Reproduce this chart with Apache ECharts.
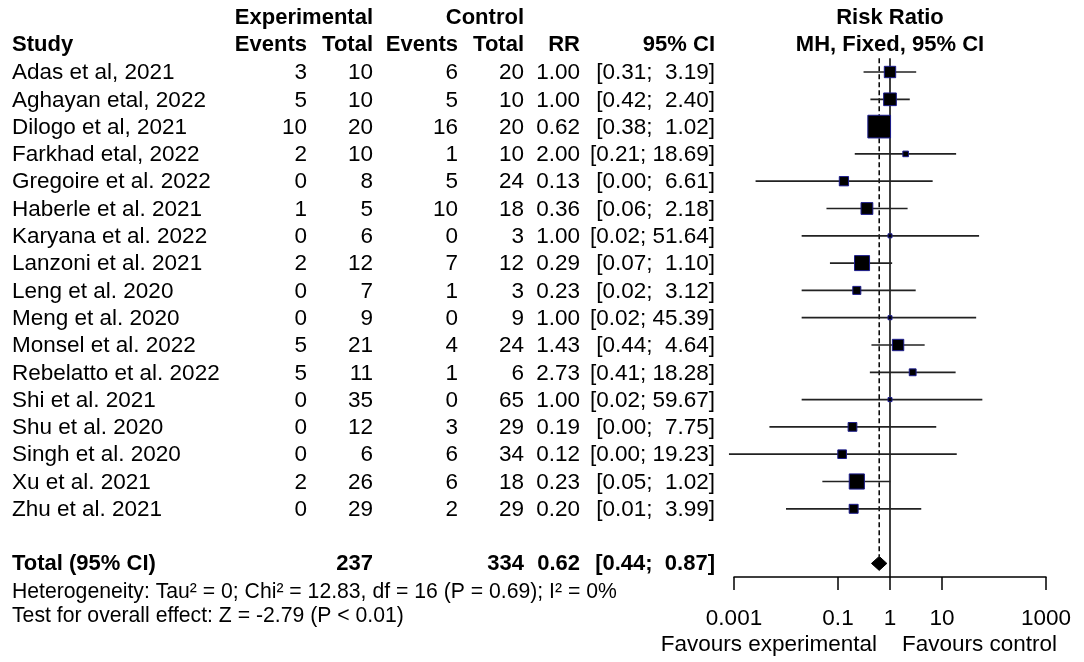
<!DOCTYPE html>
<html>
  <head>
    <meta charset="utf-8" />
    <title>Forest plot - Risk Ratio</title>
    <script src="https://cdn.jsdelivr.net/npm/echarts@6/dist/echarts.min.js"></script>
    <style>
      body {
        margin: 0;
        background: #fff;
      }
      #chart {
        width: 1084px;
        height: 662px;
      }
    </style>
  </head>
  <body>
    <div id="chart"></div>

    <script>
      const studies = [
        'Adas et al, 2021', 'Aghayan etal, 2022', 'Dilogo et al, 2021', 'Farkhad etal, 2022',
        'Gregoire et al. 2022', 'Haberle et al. 2021', 'Karyana et al. 2022', 'Lanzoni et al. 2021',
        'Leng et al. 2020', 'Meng et al. 2020', 'Monsel et al. 2022', 'Rebelatto et al. 2022',
        'Shi et al. 2021', 'Shu et al. 2020', 'Singh et al. 2020', 'Xu et al. 2021', 'Zhu et al. 2021'
      ];
      const expEvents = [3, 5, 10, 2, 0, 1, 0, 2, 0, 0, 5, 5, 0, 0, 0, 2, 0];
      const expTotal = [10, 10, 20, 10, 8, 5, 6, 12, 7, 9, 21, 11, 35, 12, 6, 26, 29];
      const ctrlEvents = [6, 5, 16, 1, 5, 10, 0, 7, 1, 0, 4, 1, 0, 3, 6, 6, 2];
      const ctrlTotal = [20, 10, 20, 10, 24, 18, 3, 12, 3, 9, 24, 6, 65, 29, 34, 18, 29];
      const rr = [1.00, 1.00, 0.62, 2.00, 0.13, 0.36, 1.00, 0.29, 0.23, 1.00, 1.43, 2.73, 1.00, 0.19, 0.12, 0.23, 0.20];
      const ciLow = [0.31, 0.42, 0.38, 0.21, 0.0026, 0.06, 0.02, 0.07, 0.02, 0.02, 0.44, 0.41, 0.02, 0.0048, 0.0008, 0.05, 0.01];
      const ciHigh = [3.19, 2.40, 1.02, 18.69, 6.61, 2.18, 51.64, 1.10, 3.12, 45.39, 4.64, 18.28, 59.67, 7.75, 19.23, 1.02, 3.99];
      // weights (%)
      const weight = [6.6, 8.2, 26.3, 1.6, 4.4, 7.1, 0, 11.5, 3.3, 0, 6.6, 2.4, 0, 3.9, 3.8, 11.7, 4.1];

      const totalExp = 237;
      const totalCtrl = 334;
      const totalRR = 0.62;
      const totalLow = 0.44;
      const totalHigh = 0.87;

      const tickValues = [0.001, 0.1, 1, 10, 1000];
      const tickLabels = ['0.001', '0.1', '1', '10', '1000'];

      const FONT = '"Liberation Sans", Arial, Helvetica, sans-serif';
      const TOTAL_ROW = 18;

      const fmt = v => v.toFixed(2);
      const ciText = (lo, hi) => '[' + fmt(lo) + ';' + (hi < 10 ? '  ' : ' ') + fmt(hi) + ']';

      function txt(text, x, y, align, bold, size) {
        return {
          type: 'text',
          style: {
            text: text, x: x, y: y,
            align: align, verticalAlign: 'middle',
            fontSize: size || (bold ? 22 : 22.5), fontFamily: FONT,
            fontWeight: bold ? 'bold' : 'normal',
            fill: '#000'
          }
        };
      }

      // table rows, y taken from the axis
      function renderTable(params, api) {
        const i = api.value(1);
        const y = api.coord([1, i])[1] + 1;
        return {
          type: 'group',
          children: [
            txt(studies[i], 12, y, 'left'),
            txt(String(expEvents[i]), 307, y, 'right'),
            txt(String(expTotal[i]), 373, y, 'right'),
            txt(String(ctrlEvents[i]), 458, y, 'right'),
            txt(String(ctrlTotal[i]), 524, y, 'right'),
            txt(fmt(rr[i]), 580, y, 'right'),
            txt(ciText(ciLow[i], ciHigh[i]), 715, y, 'right')
          ]
        };
      }

      function renderStudy(params, api) {
        const i = params.dataIndex;
        const c = api.coord([rr[i], i]);
        const l = api.coord([ciLow[i], i]);
        const h = api.coord([ciHigh[i], i]);
        const s = Math.max(4, 22.7 * Math.sqrt(weight[i] / 26.3));
        return {
          type: 'group',
          children: [
            {
              type: 'line',
              shape: { x1: l[0], y1: l[1], x2: h[0], y2: h[1] },
              style: { stroke: '#222', lineWidth: 1.7 }
            },
            {
              type: 'rect',
              shape: { x: c[0] - s / 2, y: c[1] - s / 2, width: s, height: s },
              style: { fill: '#000', stroke: '#1c1c8c', lineWidth: 1 }
            }
          ]
        };
      }

      function renderRefLines(params, api) {
        const top = api.coord([1, -0.5]);
        const bottom = api.coord([1, TOTAL_ROW + 0.5]);
        const d = api.coord([totalRR, -0.5]);
        const dEnd = api.coord([totalRR, TOTAL_ROW]);
        return {
          type: 'group',
          children: [
            {
              type: 'line',
              shape: { x1: top[0], y1: top[1], x2: bottom[0], y2: bottom[1] },
              style: { stroke: '#000', lineWidth: 1.5 }
            },
            {
              type: 'line',
              shape: { x1: d[0], y1: d[1], x2: dEnd[0], y2: dEnd[1] - 7 },
              style: { stroke: '#000', lineWidth: 1.5, lineDash: [5, 3] }
            }
          ]
        };
      }

      function renderTotal(params, api) {
        const c = api.coord([totalRR, TOTAL_ROW]);
        const l = api.coord([totalLow, TOTAL_ROW]);
        const h = api.coord([totalHigh, TOTAL_ROW]);
        return {
          type: 'polygon',
          shape: { points: [[l[0], c[1]], [c[0], c[1] - 7], [h[0], c[1]], [c[0], c[1] + 7]] },
          style: { fill: '#000', stroke: '#000', lineWidth: 1 }
        };
      }

      function renderTotalRow(params, api) {
        const y = api.coord([1, TOTAL_ROW])[1] + 1;
        return {
          type: 'group',
          children: [
            txt('Total (95% CI)', 12, y, 'left', true),
            txt(String(totalExp), 373, y, 'right', true),
            txt(String(totalCtrl), 524, y, 'right', true),
            txt(fmt(totalRR), 580, y, 'right', true),
            txt(ciText(totalLow, totalHigh), 715, y, 'right', true)
          ]
        };
      }

      const chart = echarts.init(document.getElementById('chart'));

      const option = {
        animation: false,
        grid: { left: 734, width: 312, top: 58.35, height: 518.7, containLabel: false },
        xAxis: {
          type: 'log',
          logBase: 10,
          min: 0.001,
          max: 1000,
          axisLine: { onZero: false, lineStyle: { color: '#000', width: 1.5 } },
          axisTick: { customValues: tickValues, length: 13, lineStyle: { color: '#000', width: 1.5 } },
          axisLabel: {
            customValues: tickValues,
            margin: 30,
            fontSize: 22.5,
            fontFamily: FONT,
            color: '#000',
            formatter: function (v) {
              for (let k = 0; k < tickValues.length; k++) {
                if (Math.abs(Math.log10(v) - Math.log10(tickValues[k])) < 1e-6) return tickLabels[k];
              }
              return '';
            }
          },
          splitLine: { show: false }
        },
        yAxis: {
          type: 'value',
          min: -0.5,
          max: TOTAL_ROW + 0.5,
          inverse: true,
          show: false
        },
        graphic: [
          txt('Experimental', 373, 18, 'right', true),
          txt('Control', 524, 18, 'right', true),
          txt('Risk Ratio', 890, 18, 'center', true),
          txt('Study', 12, 45, 'left', true),
          txt('Events', 307, 45, 'right', true),
          txt('Total', 373, 45, 'right', true),
          txt('Events', 458, 45, 'right', true),
          txt('Total', 524, 45, 'right', true),
          txt('RR', 580, 45, 'right', true),
          txt('95% CI', 715, 45, 'right', true),
          txt('MH, Fixed, 95% CI', 890, 45, 'center', true),
          txt('Heterogeneity: Tau\u00b2 = 0; Chi\u00b2 = 12.83, df = 16 (P = 0.69); I\u00b2 = 0%', 12, 592, 'left', false, 21.2),
          txt('Test for overall effect: Z = -2.79 (P < 0.01)', 12, 616, 'left', false, 21.2),
          txt('Favours experimental', 877, 645, 'right'),
          txt('Favours control', 902, 645, 'left')
        ],
        series: [
          {
            type: 'custom',
            name: 'ref',
            renderItem: renderRefLines,
            data: [[1, 0]],
            silent: true
          },
          {
            type: 'custom',
            name: 'table',
            renderItem: renderTable,
            data: studies.map((s, i) => [1, i]),
            silent: true
          },
          {
            type: 'custom',
            name: 'studies',
            renderItem: renderStudy,
            data: rr.map((v, i) => [v, i, ciLow[i], ciHigh[i]]),
            silent: true
          },
          {
            type: 'custom',
            name: 'total',
            renderItem: renderTotal,
            data: [[totalRR, TOTAL_ROW, totalLow, totalHigh]],
            silent: true
          },
          {
            type: 'custom',
            name: 'totalRow',
            renderItem: renderTotalRow,
            data: [[1, TOTAL_ROW]],
            silent: true
          }
        ]
      };

      chart.setOption(option);
    </script>
  </body>
</html>
